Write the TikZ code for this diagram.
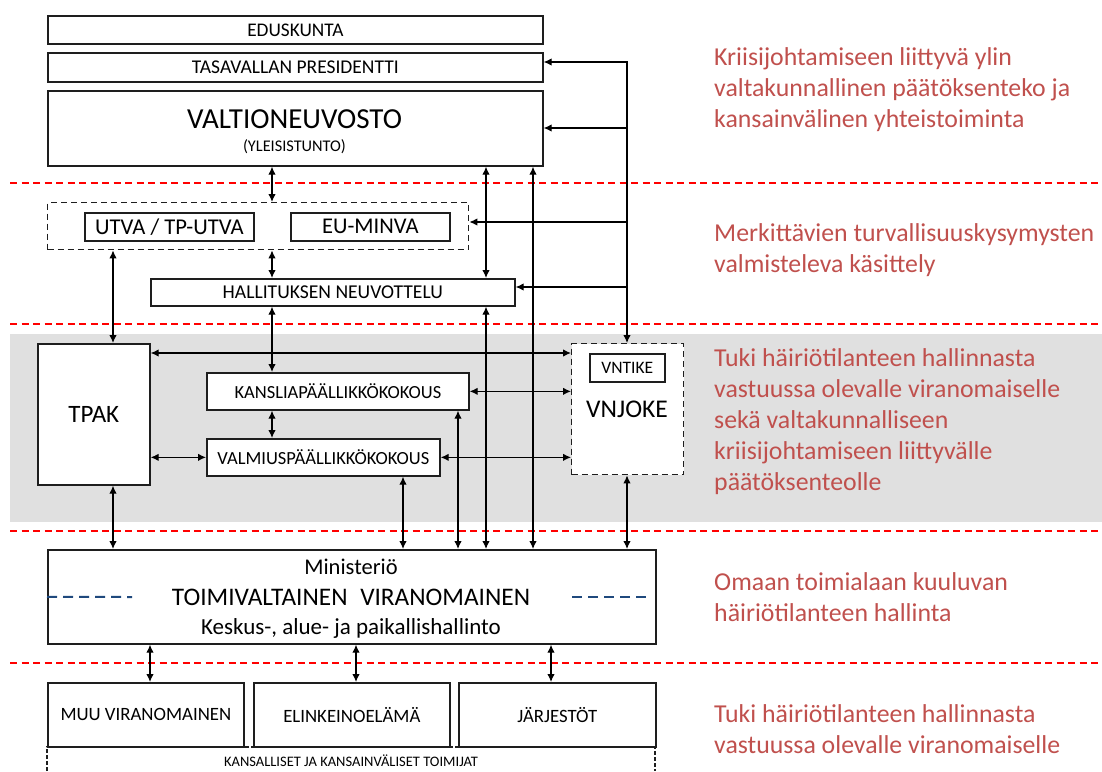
\documentclass[tikz,border=0pt]{standalone}
\usepackage{fontspec}
\setmainfont{Carlito}
\usetikzlibrary{arrows.meta}
\definecolor{notered}{RGB}{192,80,77}
\definecolor{bandgray}{RGB}{224,224,224}
\definecolor{boxline}{RGB}{30,30,30}
\definecolor{dashblue}{RGB}{31,73,125}
\newcommand{\fsz}[1]{\fontsize{#1}{#1}\selectfont}
\tikzset{
	box/.style={draw=boxline, line width=1.7pt, fill=white, inner sep=0pt, anchor=north west},
	dashbox/.style={box, line width=1.4pt, dash pattern=on 6pt off 4pt},
	twoway/.style={{Latex[length=8pt,width=7.5pt]}-{Latex[length=8pt,width=7.5pt]}, line width=1.2pt},
	oneway/.style={-{Latex[length=8pt,width=7.5pt]}, line width=1.2pt},
	levelline/.style={red, line width=1.5pt, dash pattern=on 7pt off 4.5pt},
	levelnote/.style={anchor=base west, align=left, inner sep=0pt, text=notered, font=\fontsize{25.8}{31}\selectfont},
}

\begin{document}
\begin{tikzpicture}[x=1pt,y=-1pt]
	\useasboundingbox (0,0) rectangle (1102,771);
	\fill[bandgray] (10,334) rectangle (1102,522);
	\foreach \y in {183,324,531,663}
		\draw[levelline] (10,\y) -- (1102,\y);

	\node[box, minimum width=495pt, minimum height=28pt, font=\fsz{19.3}] (edus) at (47,15) {EDUSKUNTA};
	\node[box, minimum width=495pt, minimum height=29pt, font=\fsz{19.5}] (pres) at (47,52) {TASAVALLAN PRESIDENTTI};
	\node[box, minimum width=495pt, minimum height=75pt] (vn) at (47,90) {};
	\node[anchor=base, font=\fsz{29}] (vnname) at (294.5,128) {VALTIONEUVOSTO};
	\node[anchor=base, font=\fsz{16.3}] (vnsub) at (294.5,151.5) {(YLEISISTUNTO)};

	\node[dashbox, minimum width=421pt, minimum height=47pt] (grp) at (47,202) {};
	\node[box, minimum width=169pt, minimum height=28pt, font=\fsz{22.6}] (utva) at (84,212) {UTVA / TP-UTVA};
	\node[box, minimum width=159pt, minimum height=28pt, font=\fsz{22.5}] (eumin) at (290,212) {EU-MINVA};
	\node[box, minimum width=364pt, minimum height=27pt, font=\fsz{19.6}] (hn) at (150,278) {HALLITUKSEN NEUVOTTELU};

	\node[box, minimum width=112pt, minimum height=141pt, font=\fsz{25}] (tpak) at (37,343) {TPAK};
	\node[box, minimum width=262pt, minimum height=37pt, font=\fsz{18.5}] (kans) at (206,372) {KANSLIAPÄÄLLIKKÖKOKOUS};
	\node[box, minimum width=233pt, minimum height=37pt, font=\fsz{18.5}] (valm) at (206,438) {VALMIUSPÄÄLLIKKÖKOKOUS};
	\node[dashbox, minimum width=112pt, minimum height=131pt] (vnjoke) at (571,343) {};
	\node[box, minimum width=75pt, minimum height=28pt, font=\fsz{17.5}] (vntike) at (589,353) {VNTIKE};
	\node[anchor=base, font=\fsz{25.5}] (vnjokename) at (627,417) {VNJOKE};

	\node[box, minimum width=608pt, minimum height=94pt] (min) at (47,549) {};
	\node[anchor=base, font=\fsz{22.5}] (minhead) at (351,574) {Ministeriö};
	\node[anchor=base, font=\fsz{25.3}] (minname) at (351,605) {TOIMIVALTAINEN\hspace{0.5em}VIRANOMAINEN};
	\node[anchor=base, font=\fsz{23}] (minfoot) at (351,634) {Keskus-, alue- ja paikallishallinto};
	\draw[dashblue, line width=2pt, dash pattern=on 10pt off 6pt] (min.west |- minname.center) -- (132,597);
	\draw[dashblue, line width=2pt, dash pattern=on 10pt off 6pt] (572,597) -- (647,597);

	\node[box, minimum width=196pt, minimum height=64pt, font=\fsz{18.8}] (muu) at (47,682) {MUU VIRANOMAINEN};
	\node[box, minimum width=196pt, minimum height=64pt, font=\fsz{18.8}] (elin) at (253,682) {ELINKEINOELÄMÄ};
	\node[box, minimum width=197pt, minimum height=64pt, font=\fsz{18.8}] (jarj) at (458,682) {JÄRJESTÖT};
	\draw[boxline, line width=1.3pt, dash pattern=on 4pt off 2pt] (47,771) -- (47,747) -- (655,747) -- (655,771);
	\node[font=\fsz{14.5}] (toimijat) at (351,761) {KANSALLISET JA KANSAINVÄLISET TOIMIJAT};

	\foreach \a/\b/\x in {vn/grp/272, grp/hn/272, hn/kans/272, kans/valm/272, grp/tpak/113, tpak/min/113,
			vn/hn/486, hn/min/486, vn/min/533, kans/min/458, valm/min/403, vnjoke/min/627,
			min/muu/150, min/elin/356, min/jarj/551}
		\draw[twoway] (\a.south -| \x,0) -- (\b.north -| \x,0);
	\draw[twoway] (tpak.east |- vntike.north) -- (vnjoke.west |- vntike.north);
	\draw[twoway] (kans.east) -- (kans.east -| vnjoke.west);
	\draw[twoway] (tpak.east |- valm.west) -- (valm.west);
	\draw[twoway] (valm.east) -- (valm.east -| vnjoke.west);

	\coordinate (feed) at (627,62);
	\draw[twoway] (pres.east |- feed) -- (feed) -- (vnjoke.north -| feed);
	\foreach \t/\y in {vn/128, grp/222, hn/287}
		\draw[oneway] (feed |- 0,\y) -- (\t.east |- 0,\y);

	\node[levelnote] (note1) at (714,127) {Kriisijohtamiseen liittyvä ylin\\valtakunnallinen päätöksenteko ja\\kansainvälinen yhteistoiminta};
	\node[levelnote] (note2) at (714,272) {Merkittävien turvallisuuskysymysten\\valmisteleva käsittely};
	\node[levelnote] (note3) at (714,490) {Tuki häiriötilanteen hallinnasta\\vastuussa olevalle viranomaiselle\\sekä valtakunnalliseen\\kriisijohtamiseen liittyvälle\\päätöksenteolle};
	\node[levelnote] (note4) at (714,621) {Omaan toimialaan kuuluvan\\häiriötilanteen hallinta};
	\node[levelnote] (note5) at (714,753) {Tuki häiriötilanteen hallinnasta\\vastuussa olevalle viranomaiselle};
\end{tikzpicture}
\end{document}
